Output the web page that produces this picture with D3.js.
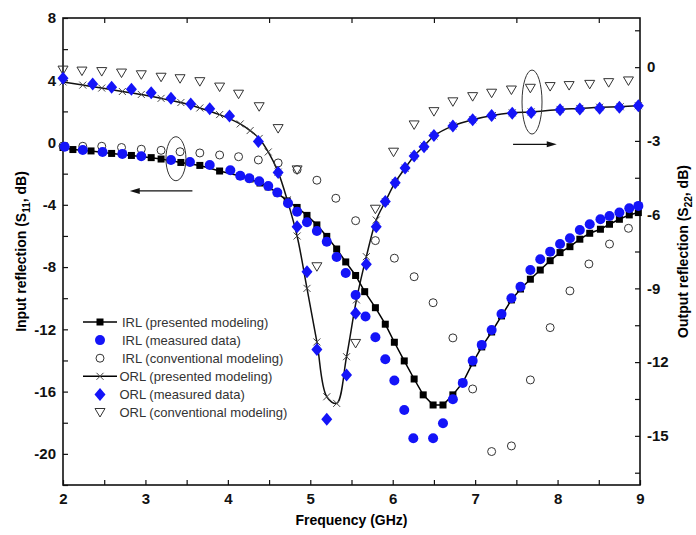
<!DOCTYPE html>
<html>
<head>
<meta charset="utf-8">
<script src="https://cdn.jsdelivr.net/npm/d3@7"></script>
<style>
  body { margin: 0; background: #fff; }
  svg { display: block; font-family: "Liberation Sans", Arial, sans-serif; }
</style>
</head>
<body>
<svg id="chart" width="696" height="535"></svg>
<script>
// frequencies in GHz, values in dB (IRL on the left axis, ORL on the right axis)
var irlModelFreq = [2.00, 2.12, 2.34, 2.59, 2.83, 3.07, 3.19, 3.43, 3.66, 3.90, 4.15, 4.27, 4.39, 4.49, 4.60, 4.72, 4.84, 4.96, 5.08, 5.20, 5.32, 5.43, 5.55, 5.66, 5.79, 5.91, 6.02, 6.14, 6.26, 6.37, 6.49, 6.61, 6.73, 6.85, 6.97, 7.08, 7.20, 7.32, 7.44, 7.55, 7.67, 7.79, 7.91, 8.03, 8.15, 8.27, 8.39, 8.52, 8.63, 8.75, 8.87, 8.98];
var irlModelDb = [-0.32, -0.45, -0.54, -0.70, -0.83, -0.97, -1.06, -1.28, -1.47, -1.83, -2.15, -2.34, -2.60, -2.85, -3.24, -3.75, -4.17, -4.68, -5.29, -6.03, -6.84, -7.67, -8.54, -9.58, -10.61, -11.67, -12.83, -14.03, -15.19, -16.21, -16.86, -16.86, -16.21, -15.42, -14.16, -13.13, -12.17, -11.14, -10.11, -9.41, -8.78, -8.19, -7.59, -7.07, -6.69, -6.21, -5.83, -5.57, -5.25, -4.93, -4.65, -4.50];

var irlMeasFreq = [2.02, 2.24, 2.48, 2.72, 2.95, 3.31, 3.54, 3.78, 4.03, 4.15, 4.26, 4.38, 4.49, 4.60, 4.73, 4.84, 4.96, 5.08, 5.20, 5.32, 5.43, 5.55, 5.67, 5.79, 5.91, 6.02, 6.14, 6.25, 6.49, 6.61, 6.73, 6.85, 6.97, 7.08, 7.20, 7.32, 7.44, 7.55, 7.67, 7.79, 7.91, 8.03, 8.15, 8.27, 8.39, 8.52, 8.63, 8.75, 8.87, 8.98];
var irlMeasDb = [-0.27, -0.48, -0.61, -0.73, -0.88, -1.12, -1.25, -1.44, -1.78, -2.13, -2.30, -2.49, -2.79, -3.21, -3.90, -4.44, -5.12, -5.68, -6.37, -7.35, -8.38, -9.79, -11.18, -12.51, -13.92, -15.29, -17.18, -19.00, -19.00, -18.03, -16.49, -15.44, -14.02, -13.00, -12.04, -11.01, -10.00, -9.26, -8.19, -7.50, -7.01, -6.52, -6.15, -5.62, -5.25, -4.93, -4.72, -4.50, -4.22, -4.07];

var irlConvFreq = [2.00, 2.24, 2.47, 2.71, 2.95, 3.19, 3.42, 3.66, 3.90, 4.13, 4.37, 4.61, 4.84, 5.08, 5.31, 5.55, 5.79, 6.02, 6.26, 6.49, 6.73, 6.97, 7.20, 7.44, 7.67, 7.91, 8.15, 8.38, 8.63, 8.86];
var irlConvDb = [-0.22, -0.24, -0.24, -0.32, -0.43, -0.50, -0.59, -0.67, -0.80, -0.91, -1.12, -1.31, -1.74, -2.42, -3.58, -5.02, -6.30, -7.43, -8.62, -10.29, -12.55, -15.83, -19.85, -19.49, -15.25, -11.89, -9.53, -7.80, -6.52, -5.51];

var orlModelFreq = [2.00, 2.24, 2.47, 2.72, 2.95, 3.19, 3.43, 3.66, 3.90, 4.15, 4.27, 4.38, 4.49, 4.61, 4.72, 4.84, 4.96, 5.08, 5.20, 5.32, 5.44, 5.56, 5.68, 5.80, 5.91, 6.03, 6.15, 6.26, 6.38, 6.50, 6.73, 6.97, 7.21, 7.45, 7.68, 8.03, 8.27, 8.51, 8.76, 8.98];
var orlModelDb = [-0.60, -0.73, -0.85, -0.99, -1.11, -1.27, -1.44, -1.66, -1.93, -2.31, -2.58, -2.90, -3.45, -4.27, -5.40, -6.87, -9.00, -11.18, -13.41, -13.68, -11.78, -9.47, -7.71, -6.22, -5.47, -4.69, -4.11, -3.61, -3.21, -2.80, -2.39, -2.14, -1.97, -1.86, -1.82, -1.72, -1.68, -1.63, -1.61, -1.57];

var orlMeasFreq = [2.00, 2.36, 2.59, 2.83, 3.07, 3.31, 3.55, 3.78, 4.02, 4.37, 4.61, 4.84, 4.96, 5.08, 5.20, 5.44, 5.55, 5.68, 5.80, 5.91, 6.03, 6.15, 6.26, 6.38, 6.50, 6.73, 6.97, 7.20, 7.45, 7.68, 8.03, 8.27, 8.51, 8.75, 8.98];
var orlMeasDb = [-0.45, -0.69, -0.82, -0.90, -1.04, -1.27, -1.50, -1.69, -1.99, -3.02, -4.29, -6.49, -8.32, -11.49, -14.33, -12.52, -10.01, -8.02, -6.49, -5.47, -4.70, -4.10, -3.61, -3.24, -2.78, -2.39, -2.14, -1.97, -1.88, -1.84, -1.73, -1.70, -1.67, -1.63, -1.57];

var orlConvFreq = [2.00, 2.23, 2.47, 2.71, 2.95, 3.19, 3.42, 3.66, 3.90, 4.13, 4.38, 4.61, 4.84, 5.08, 5.55, 5.79, 6.01, 6.26, 6.50, 6.73, 6.97, 7.20, 7.44, 7.67, 7.91, 8.14, 8.39, 8.62, 8.86];
var orlConvDb = [-0.12, -0.16, -0.18, -0.24, -0.31, -0.41, -0.47, -0.59, -0.81, -1.10, -1.61, -2.50, -4.18, -8.12, -11.24, -5.78, -3.46, -2.35, -1.81, -1.41, -1.20, -1.06, -0.93, -0.86, -0.79, -0.75, -0.70, -0.63, -0.56];

var xTicks = [2, 3, 4, 5, 6, 7, 8, 9];
var leftTicks = [8, 4, 0, -4, -8, -12, -16, -20];
var rightTicks = [0, -3, -6, -9, -12, -15];

var legendLabels = ["IRL (presented modeling)", "IRL (measured data)", "IRL (conventional modeling)",
    "ORL (presented modeling)", "ORL (measured data)", "ORL (conventional modeling)"];

(function () {
    "use strict";

    var plot = { left: 63, right: 640, top: 18, bottom: 485 };
    var blue = "#1414f8";
    var svg = d3.select("#chart");

    var x = d3.scaleLinear().domain([2, 9]).range([plot.left, plot.right]);
    var yL = d3.scaleLinear().domain([-22, 8]).range([plot.bottom, plot.top]);
    var yR = d3.scaleLinear().domain([-17, 2]).range([plot.bottom, plot.top]);

    function pairs(fs, vs) { return fs.map(function (f, i) { return [f, vs[i]]; }); }

    // axes
    var halfSteps = d3.range(2, 9.01, 0.5);
    var fmtX = function (d) { return xTicks.indexOf(d) >= 0 ? d : ""; };

    svg.append("g")
        .attr("transform", "translate(0," + plot.bottom + ")")
        .call(d3.axisBottom(x).tickValues(halfSteps).tickFormat(fmtX).tickSizeInner(-5).tickSizeOuter(0).tickPadding(8));
    svg.append("g")
        .attr("transform", "translate(0," + plot.top + ")")
        .call(d3.axisTop(x).tickValues(d3.range(2.5, 9, 1)).tickFormat("").tickSizeInner(-5).tickSizeOuter(0));
    svg.append("g")
        .attr("transform", "translate(" + plot.left + ",0)")
        .call(d3.axisLeft(yL).tickValues(d3.range(-22, 8.01, 2))
            .tickFormat(function (d) { return leftTicks.indexOf(d) >= 0 ? d : ""; })
            .tickSizeInner(-5).tickSizeOuter(0).tickPadding(7));
    svg.append("g")
        .attr("transform", "translate(" + plot.right + ",0)")
        .call(d3.axisRight(yR).tickValues(d3.range(-16.5, 2, 1.5))
            .tickFormat(function (d) { return rightTicks.indexOf(d) >= 0 ? d : ""; })
            .tickSizeInner(-5).tickSizeOuter(0).tickPadding(7));

    svg.selectAll(".domain").remove();
    svg.selectAll(".tick line").attr("stroke", "#111").attr("stroke-width", 1.2);
    svg.selectAll(".tick text")
        .attr("font-family", "'Liberation Sans', Arial, sans-serif")
        .attr("font-size", 15).attr("font-weight", "bold").attr("fill", "#111");

    svg.append("rect")
        .attr("x", plot.left).attr("y", plot.top)
        .attr("width", plot.right - plot.left).attr("height", plot.bottom - plot.top)
        .attr("fill", "none").attr("stroke", "#111").attr("stroke-width", 1.6);

    // axis titles
    svg.append("text")
        .attr("x", (plot.left + plot.right) / 2).attr("y", 525)
        .attr("text-anchor", "middle").attr("font-size", 14).attr("font-weight", "bold")
        .text("Frequency (GHz)");

    function sideTitle(cx, name, sub) {
        var t = svg.append("text")
            .attr("transform", "translate(" + cx + "," + ((plot.top + plot.bottom) / 2) + ") rotate(-90)")
            .attr("text-anchor", "middle").attr("font-size", 14).attr("font-weight", "bold");
        t.append("tspan").text(name + " (S");
        t.append("tspan").attr("dy", 4).attr("font-size", 10).text(sub);
        t.append("tspan").attr("dy", -4).text(", dB)");
    }
    sideTitle(26, "Input reflection", "11");
    sideTitle(688, "Output reflection", "22");

    // symbols
    function square(g, cx, cy) {
        g.append("rect").attr("x", cx - 3.5).attr("y", cy - 3.5).attr("width", 7).attr("height", 7).attr("fill", "#000");
    }
    function dot(g, cx, cy) {
        g.append("circle").attr("cx", cx).attr("cy", cy).attr("r", 5).attr("fill", blue);
    }
    function ring(g, cx, cy) {
        g.append("circle").attr("cx", cx).attr("cy", cy).attr("r", 4)
            .attr("fill", "none").attr("stroke", "#333").attr("stroke-width", 1);
    }
    function cross(g, cx, cy) {
        g.append("path").attr("d", "M" + (cx - 3.5) + "," + (cy - 3.5) + "L" + (cx + 3.5) + "," + (cy + 3.5) +
            "M" + (cx - 3.5) + "," + (cy + 3.5) + "L" + (cx + 3.5) + "," + (cy - 3.5))
            .attr("stroke", "#444").attr("stroke-width", 1);
    }
    function diamond(g, cx, cy) {
        g.append("path").attr("d", "M" + cx + "," + (cy - 6.5) + "L" + (cx + 5.5) + "," + cy + "L" + cx + "," + (cy + 6.5) + "L" + (cx - 5.5) + "," + cy + "Z")
            .attr("fill", blue);
    }
    function tri(g, cx, cy) {
        g.append("path").attr("d", "M" + (cx - 5) + "," + (cy - 4) + "L" + (cx + 5) + "," + (cy - 4) + "L" + cx + "," + (cy + 4.5) + "Z")
            .attr("fill", "none").attr("stroke", "#333").attr("stroke-width", 1);
    }

    var marks = svg.append("g");

    // IRL presented modeling
    var irlModel = pairs(irlModelFreq, irlModelDb);
    marks.append("path").datum(irlModel)
        .attr("d", d3.line().x(function (d) { return x(d[0]); }).y(function (d) { return yL(d[1]); }))
        .attr("fill", "none").attr("stroke", "#000").attr("stroke-width", 1.5);
    irlModel.forEach(function (d) { square(marks, x(d[0]), yL(d[1])); });

    // ORL presented modeling
    var orlModel = pairs(orlModelFreq, orlModelDb);
    marks.append("path").datum(orlModel)
        .attr("d", d3.line().curve(d3.curveCatmullRom).x(function (d) { return x(d[0]); }).y(function (d) { return yR(d[1]); }))
        .attr("fill", "none").attr("stroke", "#111").attr("stroke-width", 1.5);
    orlModel.forEach(function (d) { cross(marks, x(d[0]), yR(d[1])); });

    pairs(irlConvFreq, irlConvDb).forEach(function (d) { ring(marks, x(d[0]), yL(d[1])); });
    pairs(orlConvFreq, orlConvDb).forEach(function (d) { tri(marks, x(d[0]), yR(d[1])); });
    pairs(irlMeasFreq, irlMeasDb).forEach(function (d) { dot(marks, x(d[0]), yL(d[1])); });
    pairs(orlMeasFreq, orlMeasDb).forEach(function (d) { diamond(marks, x(d[0]), yR(d[1])); });

    // annotations: ellipses and arrows
    var note = svg.append("g").attr("stroke", "#333").attr("fill", "none").attr("stroke-width", 1);
    note.append("ellipse").attr("cx", x(3.37)).attr("cy", yL(-1.04)).attr("rx", 10).attr("ry", 22);
    note.append("ellipse").attr("cx", x(7.69)).attr("cy", yR(-1.42)).attr("rx", 10).attr("ry", 32);

    function arrow(x1, x2, yy) {
        var dir = x2 > x1 ? 1 : -1;
        svg.append("line").attr("x1", x1).attr("x2", x2 - dir * 8).attr("y1", yy).attr("y2", yy)
            .attr("stroke", "#111").attr("stroke-width", 1.3);
        svg.append("path").attr("d", "M" + x2 + "," + yy + "L" + (x2 - dir * 10) + "," + (yy - 3) + "L" + (x2 - dir * 10) + "," + (yy + 3) + "Z")
            .attr("fill", "#111");
    }
    arrow(x(3.57), x(2.81), yL(-3.11));
    arrow(x(7.46), x(7.99), yR(-3.14));

    // legend
    var legend = svg.append("g");
    var painters = [square, dot, ring, cross, diamond, tri];
    legendLabels.forEach(function (label, i) {
        var cy = 322 + i * 18.1;
        if (i === 0 || i === 3) {
            legend.append("line").attr("x1", 83).attr("x2", 117).attr("y1", cy).attr("y2", cy)
                .attr("stroke", "#000").attr("stroke-width", 1.5);
        }
        painters[i](legend, 100, cy);
        legend.append("text").attr("x", i < 3 ? 122 : 119.5).attr("y", cy + 4.5)
            .attr("font-size", 13).attr("fill", "#333").text(label);
    });
})();
</script>
</body>
</html>
